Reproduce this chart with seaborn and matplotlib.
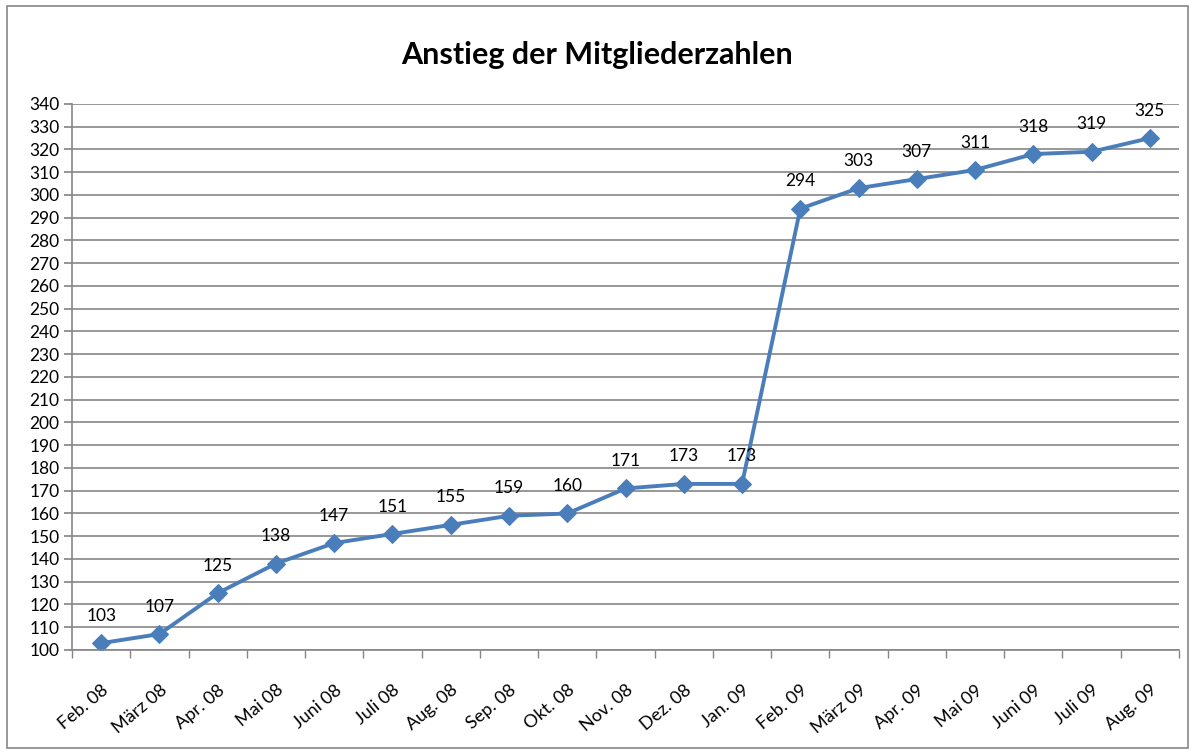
import numpy as np
import pandas as pd
import matplotlib
matplotlib.use("Agg")
import matplotlib.pyplot as plt
import seaborn as sns
from matplotlib.patches import Rectangle

# Daten
monate = ["Feb. 08", "März 08", "Apr. 08", "Mai 08", "Juni 08", "Juli 08", "Aug. 08",
          "Sep. 08", "Okt. 08", "Nov. 08", "Dez. 08", "Jan. 09", "Feb. 09", "März 09",
          "Apr. 09", "Mai 09", "Juni 09", "Juli 09", "Aug. 09"]
mitglieder = [103, 107, 125, 138, 147, 151, 155, 159, 160, 171, 173, 173,
              294, 303, 307, 311, 318, 319, 325]
titel = "Anstieg der Mitgliederzahlen"

sns.set_theme(style="white", rc={"text.color": "black", "xtick.color": "black",
                                 "ytick.color": "black"})
plt.rcParams["font.family"] = ["Lato", "DejaVu Sans"]

df = pd.DataFrame({"pos": np.arange(len(monate)), "wert": mitglieder})

fig = plt.figure(figsize=(11.95, 7.53), dpi=100)
ax = fig.add_axes([0.0603, 0.1368, 0.9263, 0.7251])

blau = "#4A7EBB"
sns.lineplot(data=df, x="pos", y="wert", ax=ax, color=blau, linewidth=2.8,
             marker="D", markersize=9, markeredgecolor=blau, sort=False)

for x, y in zip(df["pos"], df["wert"]):
    ax.annotate(str(y), (x, y), xytext=(0, 14), textcoords="offset points",
                ha="center", va="bottom", fontsize=12.5, color="black")

ax.set_xlim(-0.5, len(monate) - 0.5)
ax.set_ylim(100, 340)
ax.set_yticks(np.arange(100, 341, 10))
ax.tick_params(axis="y", labelsize=12.5, length=6, color="#868686", labelcolor="black",
               direction="out", left=True, pad=3)
ax.yaxis.grid(True, color="#868686", linewidth=1.2)
ax.xaxis.grid(False)

ax.set_xticks(np.arange(len(monate)))
ax.set_xticklabels(monate, rotation=40, ha="right", rotation_mode="anchor", fontsize=13)
ax.tick_params(axis="x", which="major", length=0, pad=23, labelcolor="black")
ax.set_xticks(np.arange(-0.5, len(monate)), minor=True)
ax.tick_params(axis="x", which="minor", length=6, color="#868686", direction="out",
               bottom=True)

for s in ["top", "right"]:
    ax.spines[s].set_visible(False)
for s in ["left", "bottom"]:
    ax.spines[s].set_color("#868686")
    ax.spines[s].set_linewidth(1.2)

ax.set_xlabel("")
ax.set_ylabel("")
fig.text(0.5, 0.927, titel, ha="center", va="center", fontsize=22, fontweight="bold",
         color="black")

fig.patches.append(Rectangle((0.006, 0.006), 0.988, 0.986, transform=fig.transFigure,
                             fill=False, edgecolor="#868686", linewidth=1.2))

fig.savefig("out.png", dpi=100)
